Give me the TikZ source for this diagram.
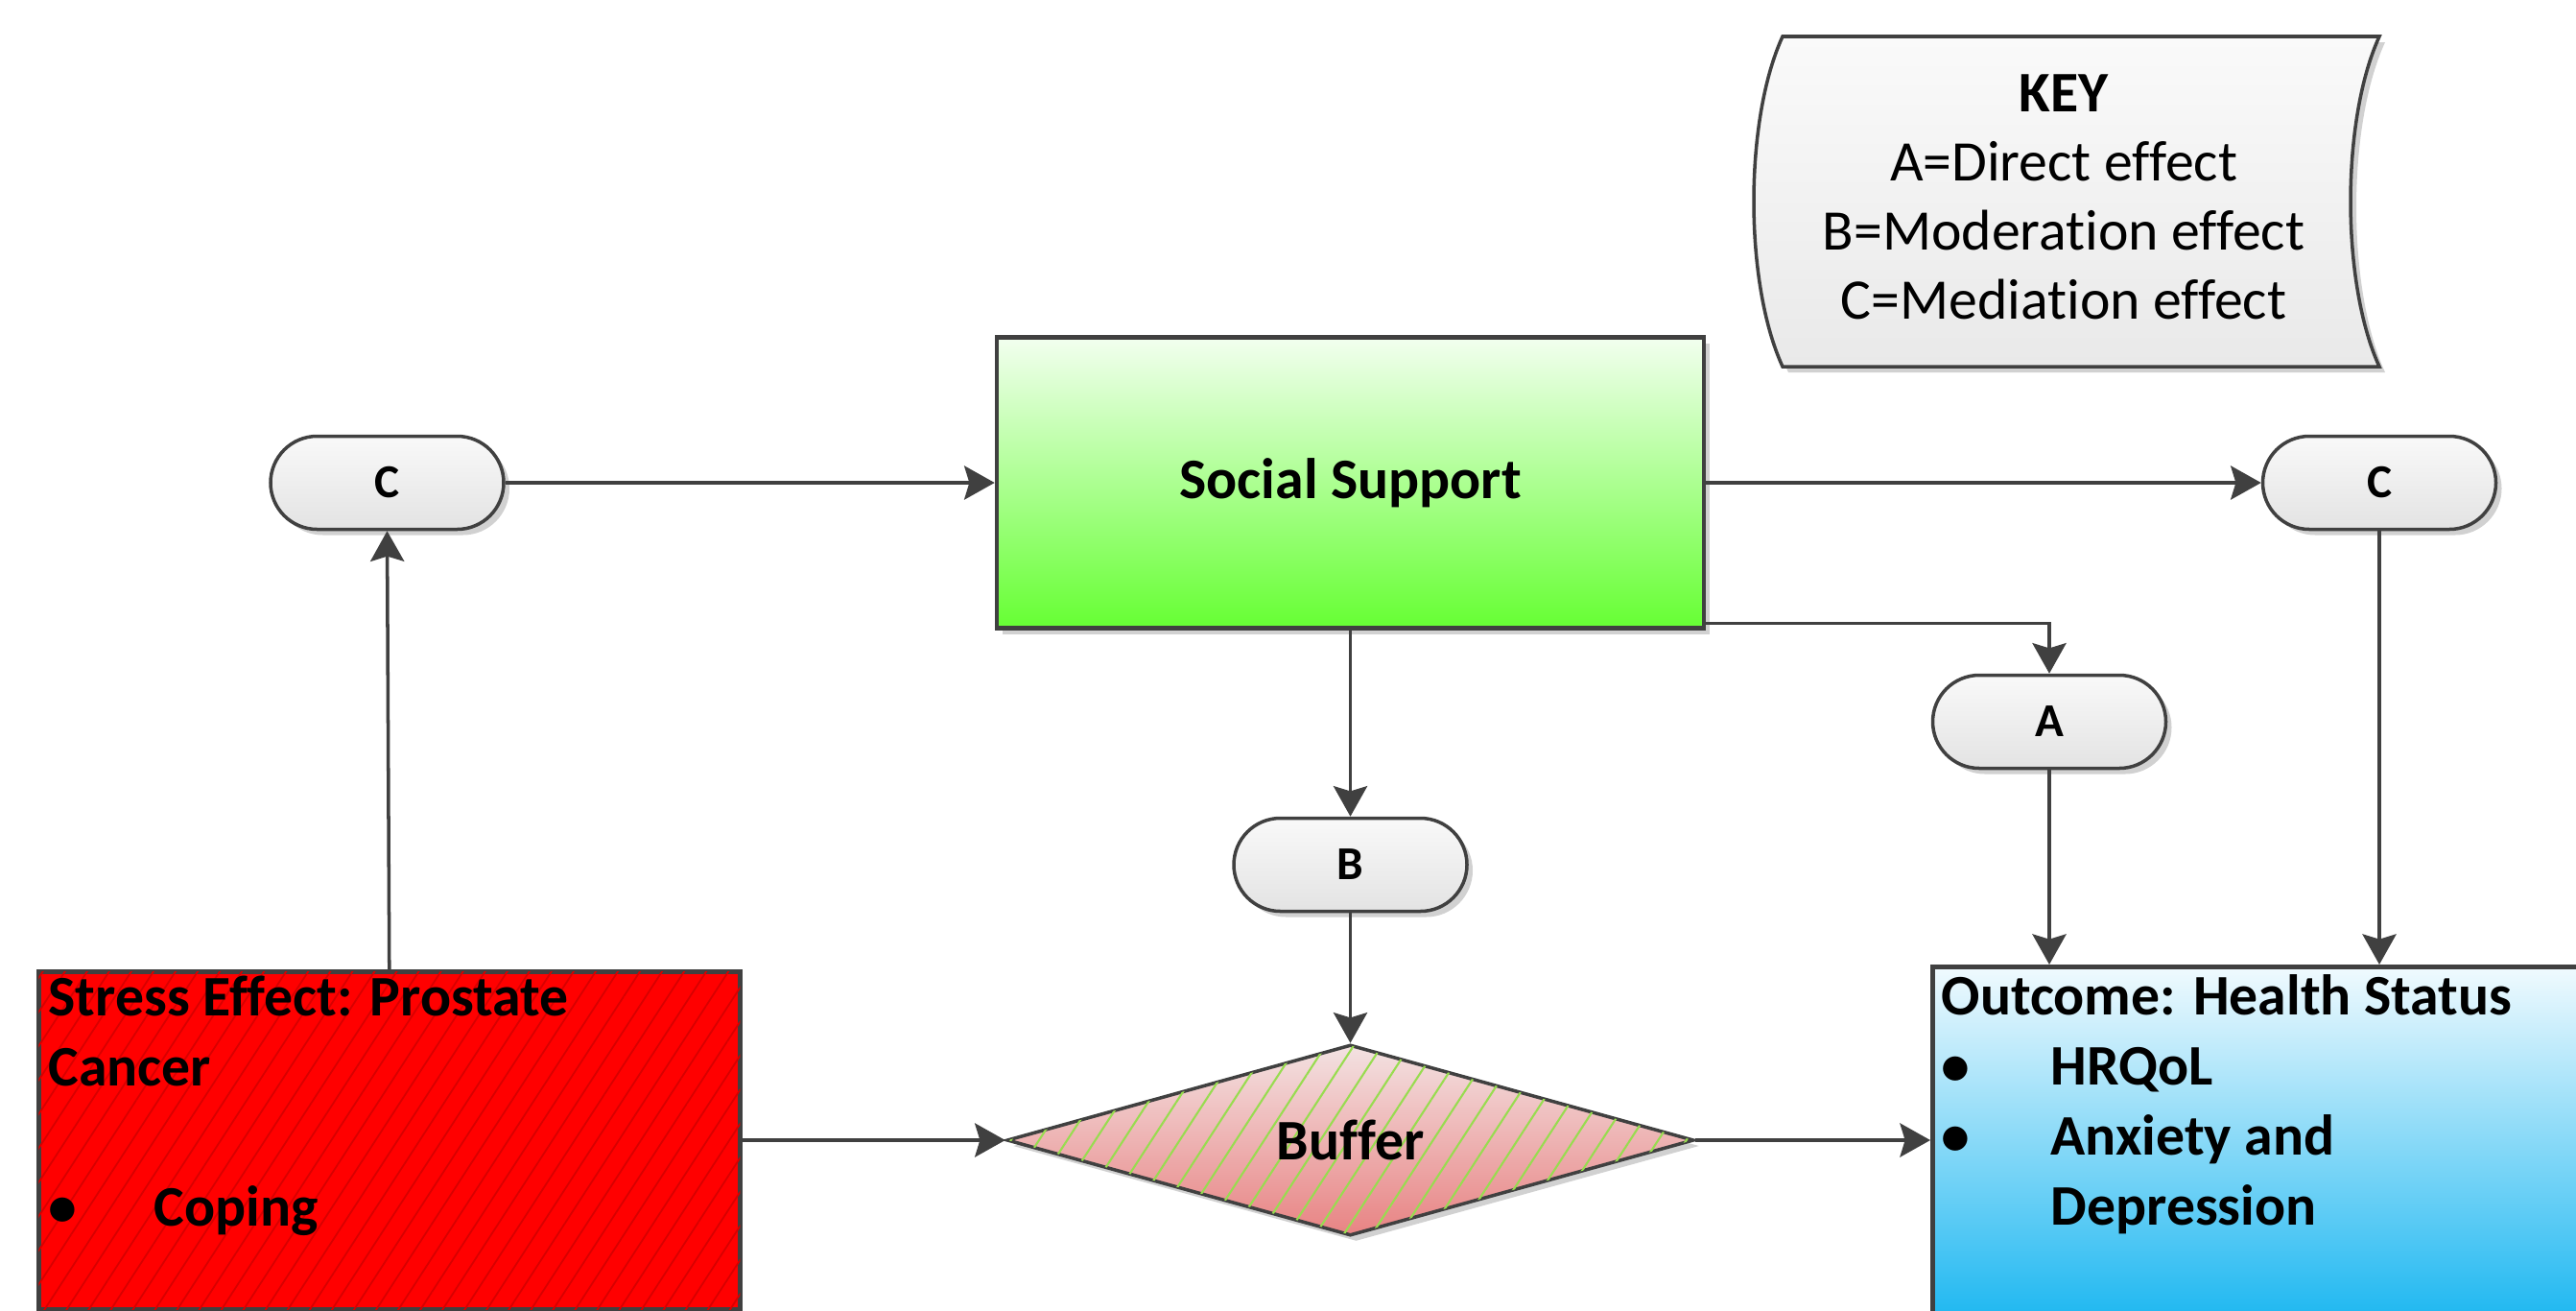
\documentclass[tikz,border=0pt]{standalone}
\usepackage{fontspec}
\setmainfont{Carlito}[Ligatures=NoCommon]
\usetikzlibrary{arrows.meta,shapes.geometric,patterns.meta,shadows}
\definecolor{linec}{HTML}{404040}
\definecolor{ovaltop}{HTML}{F9F9F9}
\definecolor{ovalbot}{HTML}{E3E3E3}
\definecolor{sstop}{HTML}{F2FFEF}
\definecolor{ssbot}{HTML}{66FF33}
\definecolor{outtop}{HTML}{F0FAFE}
\definecolor{outbot}{HTML}{00AEEF}
\definecolor{bftop}{HTML}{F3E2E2}
\definecolor{bfbot}{HTML}{E88383}
\definecolor{bfline}{HTML}{98DC50}
\definecolor{stred}{HTML}{FF0000}
\definecolor{sthatch}{HTML}{D80000}
\definecolor{keytop}{HTML}{FAFAFA}
\definecolor{keybot}{HTML}{E9E9E9}
\begin{document}
\begin{tikzpicture}[
  txt/.style={font=\fontsize{17}{20.5}\selectfont, inner sep=0pt},
  btxt/.style={font=\fontsize{17}{20.5}\selectfont\bfseries, inner sep=0pt},
  shad/.style={drop shadow={shadow xshift=0.06cm, shadow yshift=-0.06cm, fill=black, opacity=0.18}},
  conn/.style={draw=linec, line width=1pt, -{Stealth[length=9pt,width=10pt,inset=1.5pt]}},
  oval/.style={shad, draw=linec, line width=1pt, rounded corners=0.485cm,
    minimum width=2.43cm, minimum height=0.97cm, inner sep=0pt,
    top color=ovaltop, bottom color=ovalbot, font=\fontsize{14}{16}\selectfont\bfseries},
  ssbox/.style={shad, draw=linec, line width=1.3pt, minimum width=7.37cm, minimum height=3.03cm,
    inner sep=0pt, top color=sstop, bottom color=ssbot, font=\fontsize{17}{20.5}\selectfont\bfseries},
  bufshape/.style={shad, diamond, aspect=3.6, draw=linec, line width=1pt,
    minimum width=7.16cm, minimum height=1.99cm, inner sep=0pt,
    top color=bftop, bottom color=bfbot,
    postaction={pattern={Lines[angle=57,distance=7pt,line width=0.6pt]}, pattern color=bfline},
    font=\fontsize{17}{20.5}\selectfont\bfseries},
  stressbox/.style={draw=linec, line width=1.3pt, fill=stred, inner sep=0pt,
    postaction={pattern={Lines[angle=57,distance=5.5pt,line width=0.5pt]}, pattern color=sthatch}},
  outbox/.style={draw=linec, line width=1.3pt, inner sep=0pt, top color=outtop, bottom color=outbot},
]
\useasboundingbox (0,0) rectangle (26.85,-13.65);
\fill[white] (0,0) rectangle (26.85,-13.65);
\clip (0,0) rectangle (26.85,-13.65);

% key shape
\path[shad, draw=linec, line width=1pt, top color=keytop, bottom color=keybot]
  (18.58,-0.38) -- (24.80,-0.38)
  .. controls (24.40,-1.25) and (24.40,-2.95) .. (24.80,-3.82)
  -- (18.58,-3.82)
  .. controls (18.18,-2.95) and (18.18,-1.25) .. (18.58,-0.38) -- cycle;
\node[txt, align=center] (key) at (21.51,-2.05)
  {\textbf{KEY}\\A=Direct effect\\B=Moderation effect\\C=Mediation effect};

% main nodes
\node[ssbox] (ss) at (14.075,-5.03) {Social Support};
\node[oval] (cl) at (4.035,-5.03) {C};
\node[oval] (cr) at (24.80,-5.03) {C};
\node[oval] (a) at (21.36,-7.52) {A};
\node[oval] (b) at (14.075,-9.01) {B};
\node[bufshape] (buf) at (14.075,-11.88) {Buffer};
\node[stressbox, anchor=north west, minimum width=7.31cm, minimum height=3.52cm] (stress) at (0.38,-10.10) {};
\node[outbox, anchor=north west, minimum width=7.2cm, minimum height=4.2cm] (out) at (20.12,-10.05) {};

% stress text
\node[btxt, anchor=base west] (st1) at (0.50,-10.58) {Stress Effect: Prostate};
\node[btxt, anchor=base west] (st2) at (0.50,-11.31) {Cancer};
\node[btxt, anchor=base west] (st3) at (0.50,-12.77) {\textbullet};
\node[btxt, anchor=base west] (st4) at (1.60,-12.77) {Coping};

% outcome text
\node[btxt, anchor=base west] (ot1) at (20.23,-10.57) {Outcome: Health Status};
\node[btxt, anchor=base west] (ot2) at (20.23,-11.30) {\textbullet};
\node[btxt, anchor=base west] (ot3) at (21.37,-11.30) {HRQoL};
\node[btxt, anchor=base west] (ot4) at (20.23,-12.03) {\textbullet};
\node[btxt, anchor=base west] (ot5) at (21.37,-12.03) {Anxiety and};
\node[btxt, anchor=base west] (ot6) at (21.37,-12.76) {Depression};

% connectors
\draw[conn] (stress.north) -- (cl.south);
\draw[conn] (cl.east) -- (ss.west);
\draw[conn] (ss.east) -- (cr.west);
\draw[conn] (cr.south) -- (cr.south |- out.north);
\draw[conn] ([yshift=0.075cm]ss.south east) -| (a.north);
\draw[conn] (a.south) -- (a.south |- out.north);
\draw[conn] (ss.south) -- (b.north);
\draw[conn] (b.south) -- (buf.north);
\draw[conn] (stress.east |- buf.west) -- (buf.west);
\draw[conn] (buf.east) -- (out.west |- buf.east);
\end{tikzpicture}
\end{document}
